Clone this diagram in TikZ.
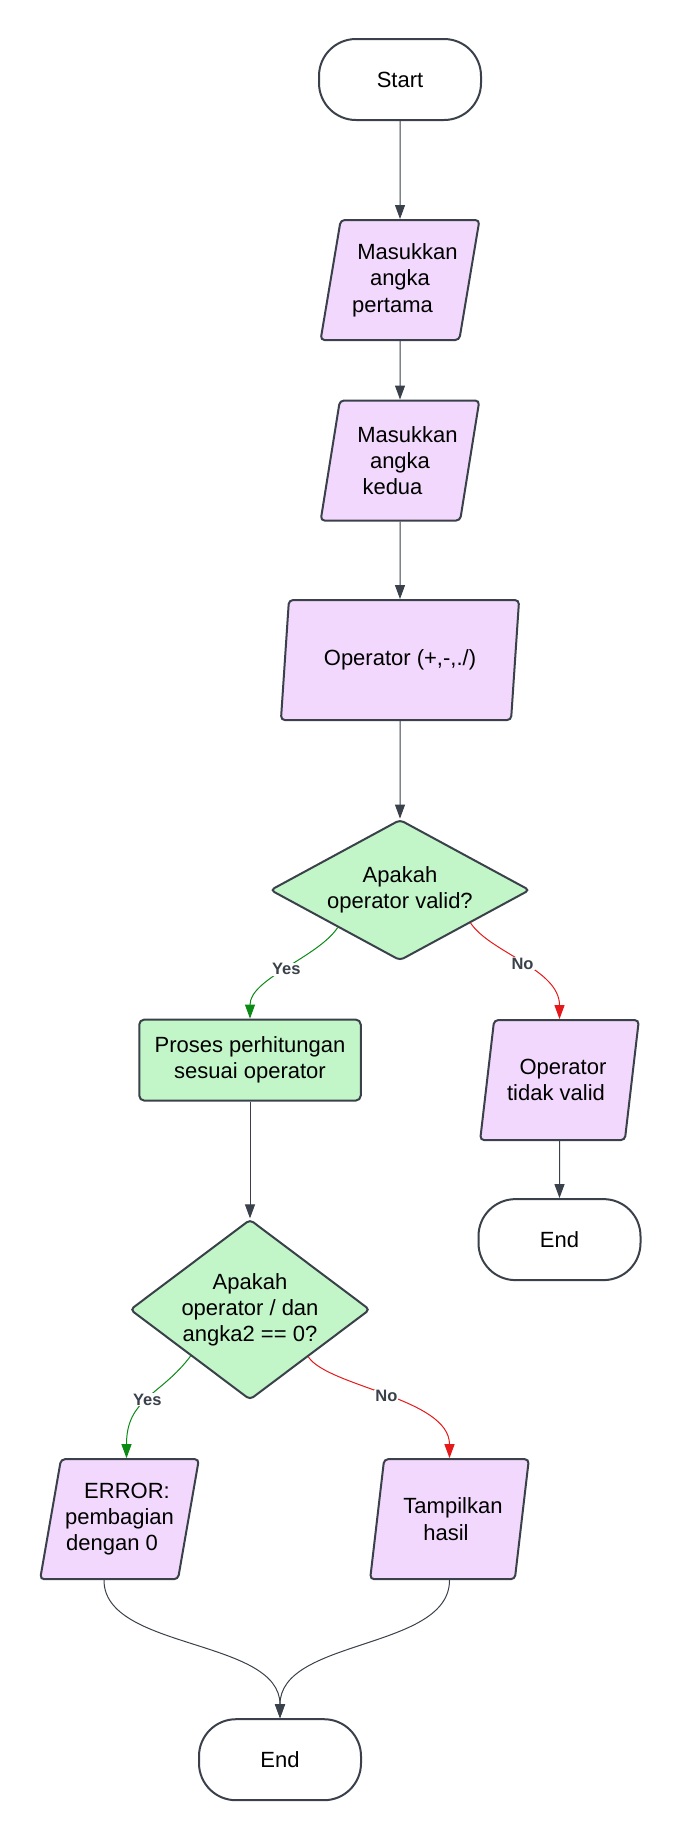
\documentclass[tikz,border=0pt]{standalone}
\usepackage{fontspec}
\setmainfont{Liberation Sans}
\usepackage{tikz}
\usetikzlibrary{positioning,shapes.geometric,arrows.meta}
\definecolor{edgecol}{HTML}{3A414A}
\definecolor{lilac}{HTML}{F2D8FC}
\definecolor{mint}{HTML}{C2F6C8}
\definecolor{yescol}{HTML}{0B8A14}
\definecolor{nocol}{HTML}{E51919}
\tikzset{term node/.style={rectangle,rounded corners=37pt,draw=edgecol,line width=2pt,fill=white,minimum width=162pt,minimum height=81pt,inner sep=0pt,font=\fontsize{22pt}{26.3pt}\selectfont},}
\tikzset{io node/.style={trapezium,trapezium left angle=75,trapezium right angle=105,trapezium stretches=true,rounded corners=4pt,draw=edgecol,line width=2pt,fill=lilac,minimum width=159pt,minimum height=120pt,inner sep=0pt,align=center,font=\fontsize{22pt}{26.3pt}\selectfont},}
\tikzset{proc node/.style={rectangle,rounded corners=5pt,draw=edgecol,line width=2pt,fill=mint,minimum width=221.5pt,minimum height=81pt,inner sep=0pt,align=center,font=\fontsize{22pt}{26.3pt}\selectfont},}
\tikzset{dec node/.style={diamond,rounded corners=4pt,draw=edgecol,line width=2pt,fill=mint,inner sep=1pt,align=center,font=\fontsize{22pt}{26.3pt}\selectfont},}
\tikzset{flow/.style={draw=edgecol,line width=1pt,-{Triangle[length=14pt,width=10pt]}},}
\tikzset{yes flow/.style={flow,draw=yescol},}
\tikzset{no flow/.style={flow,draw=nocol},}
\tikzset{tag/.style={fill=white,inner sep=1pt,text=edgecol,font=\fontsize{16.5pt}{20pt}\selectfont\bfseries},}

\begin{document}
\begin{tikzpicture}[x=1pt,y=1pt]
       \useasboundingbox (0,0) rectangle (680,-1840);

       \node[term node] (start) at (400,-79.5) {Start};
       \node[io node] (in1) [below = 98pt of start] {\hspace*{15pt}Masukkan\\angka\\pertama\hspace*{15pt}};
       \node[io node] (in2) [below = 58.5pt of in1] {\hspace*{15pt}Masukkan\\angka\\kedua\hspace*{15pt}};
       \node[io node, minimum width=238.5pt] (op) [below = 77.5pt of in2] {Operator (+,-,./)};
       \node[dec node, minimum width=259.5pt, minimum height=141pt, aspect=1.84] (valid) [below = 97.5pt of op] {Apakah\\operator valid?};

       \node[proc node] (hitung) [below = 57pt of valid, xshift=-150pt] {Proses perhitungan\\sesuai operator};
       \node[io node] (invalid) [below = 57.5pt of valid, xshift=159.5pt] {\hspace*{7pt}Operator\\tidak valid\hspace*{7pt}};
       \node[term node] (end1) [below = 57pt of invalid] {End};

       \node[dec node, minimum width=240pt, minimum height=180.5pt, aspect=1.33] (nol) [below = 116.8pt of hitung] {Apakah\\operator / dan\\angka2 == 0?};
       \node[io node] (error) [below = 57.3pt of nol, xshift=-130.5pt] {\hspace*{15pt}ERROR:\\pembagian\\dengan 0\hspace*{15pt}};
       \node[io node] (hasil) [below = 57.3pt of nol, xshift=199.5pt] {\hspace*{7pt}Tampilkan\\hasil\hspace*{7pt}};
       \node[term node] (end2) [below = 138pt of error, xshift=160.5pt] {End};

       \draw[flow] (start) -- (in1);
       \draw[flow] (in1) -- (in2);
       \draw[flow] (in2) -- (op);
       \draw[flow] (op) -- (valid);
       \draw[yes flow] (valid.211) .. controls +(-20,-30) and +(0,40) .. node[tag] {Yes} (hitung.north);
       \draw[no flow] (valid.335) .. controls +(20,-30) and +(0,50) .. node[tag] {No} (invalid.north);
       \draw[flow] (invalid) -- (end1);
       \draw[flow] (hitung) -- (nol);
       \draw[yes flow] (nol.218) .. controls +(-30,-40) and +(0,60) .. node[tag] {Yes} ([xshift=7pt]error.north);
       \draw[no flow] (nol.321) .. controls +(20,-30) and +(0,60) .. node[tag] {No} (hasil.north);
       \draw[flow] ([xshift=-15.5pt]error.south) .. controls +(0,-70) and +(0,80) .. (end2.north);
       \draw[flow] (hasil.south) .. controls +(0,-70) and +(0,80) .. (end2.north);
\end{tikzpicture}
\end{document}
